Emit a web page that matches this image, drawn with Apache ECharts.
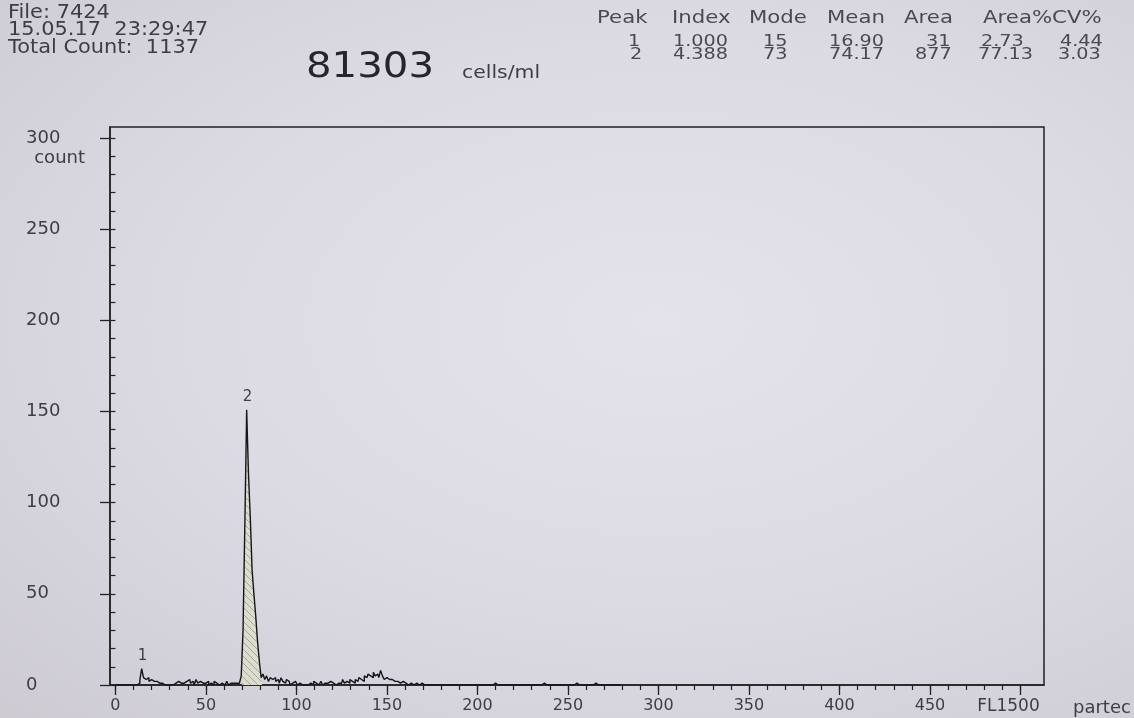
<!DOCTYPE html>
<html><head><meta charset="utf-8">
<script src="https://cdn.jsdelivr.net/npm/echarts@6/dist/echarts.min.js"></script>
<style>
html,body{margin:0;padding:0;width:1134px;height:718px;overflow:hidden;
background: radial-gradient(ellipse at 58% 45%, #e4e3ec 0%, #dcdbe4 50%, #cdcad2 100%);}
#c{width:1134px;height:718px;}
</style></head><body><div id="c"></div>
<script>
// Histogram counts per channel (FL1), channels 0..279 (beyond: 0)
const counts = [
  0,0,0,0,0,0,0,0,0,0,
  0,0,0,1,3,9,4,3,4,2,
  3,2,1,2,1,0,1,0,1,0,
  0,1,0,1,0,2,1,0,1,2,
  1,3,1,2,0,3,1,2,1,0,
  1,2,0,1,0,2,1,0,1,1,
  0,1,2,0,1,1,2,1,1,2,
  5,30,88,151,116,92,63,50,38,24,
  13,4,6,3,5,2,4,3,4,2,
  3,1,4,2,1,3,2,0,1,2,
  1,0,1,0,1,0,0,1,1,0,
  2,1,0,1,2,0,1,1,0,2,
  1,2,0,1,2,1,3,1,2,1,
  3,2,1,3,2,4,3,2,5,4,
  6,5,4,7,5,6,4,8,5,3,
  4,3,2,3,2,1,2,1,0,2,
  1,0,0,1,0,0,1,0,0,1,
  0,0,0,0,0,0,0,0,0,0,
  0,0,0,0,0,0,0,0,0,0,
  0,0,0,0,0,0,0,0,0,0,
  1,0,0,0,0,0,0,0,0,0,
  1,0,0,0,0,0,0,0,0,0,
  0,0,0,0,0,0,0,1,0,0,
  0,0,0,0,0,0,0,1,0,0,
  0,0,0,0,0,0,0,0,0,0,
  0,0,0,0,0,1,0,0,0,0,
  0,0,0,0,0,1,0,0,0,1,
  0,0,0,0,0,0,0,0,0,0
];
const peakNames = ['1', '2'];
const peakModes = [15, 73];
const gate2 = [70, 81];

const xTicks = [0,50,100,150,200,250,300,350,400,450,500];
const xMinor = [0,10,20,30,40,50,60,70,80,90,100,110,120,130,140,150,160,170,180,190,200,
  210,220,230,240,250,260,270,280,290,300,310,320,330,340,350,360,370,380,390,400,
  410,420,430,440,450,460,470,480,490,500];
const yTicks = [0,50,100,150,200,250,300];
const yMinor = [0,10,20,30,40,50,60,70,80,90,100,110,120,130,140,150,160,170,180,190,200,
  210,220,230,240,250,260,270,280,290,300];

const headerLeft = ['File: 7424', '15.05.17  23:29:47', 'Total Count:  1137'];
const concentration = '81303';
const concUnit = 'cells/ml';
const tableHeader = ['Peak', 'Index', 'Mode', 'Mean', 'Area', 'Area%CV%'];
const tableRows = [
  ['1', '1.000', '15', '16.90', '31', '2.73', '4.44'],
  ['2', '4.388', '73', '74.17', '877', '77.13', '3.03']
];

// layout (style only)
const FONT = '"DejaVu Sans", "Liberation Sans", sans-serif';
const TXT = '#3e3d46';
const headerX = [597, 672, 749, 827, 904, 983];
const cellX = [[628, 673, 763, 829, 926, 981, 1060], [630, 673, 763, 829, 915, 978, 1058]];

// hatch pattern for gated peak
const pat = document.createElement('canvas');
pat.width = 7; pat.height = 7;
const pc = pat.getContext('2d');
pc.fillStyle = '#dcdccf'; pc.fillRect(0,0,7,7);
pc.strokeStyle = '#a7a798'; pc.lineWidth = 1;
pc.beginPath(); pc.moveTo(0,0); pc.lineTo(7,7); pc.stroke();

const graphics = [];
headerLeft.forEach((t, i) => graphics.push({type:'text', x:8, y:[13,30,48][i], scaleX:1.1,
  style:{text:t, font:'19px ' + FONT, fill:TXT, align:'left', verticalAlign:'middle'}}));
graphics.push({type:'text', x:306, y:68, scaleX:1.15, style:{text:concentration, font:'35px ' + FONT, fill:'#25252b', align:'left', verticalAlign:'middle'}});
graphics.push({type:'text', x:462, y:74, scaleX:1.2, style:{text:concUnit, font:'17px ' + FONT, fill:TXT, align:'left', verticalAlign:'middle'}});
tableHeader.forEach((t, i) => graphics.push({type:'text', x:headerX[i], y:19, scaleX:1.25,
  style:{text:t, font:'17px ' + FONT, fill:'#4a4952', align:'left', verticalAlign:'middle'}}));
tableRows.forEach((row, r) => row.forEach((t, i) => graphics.push({type:'text', x:cellX[r][i], y:[42,55][r], scaleX:1.2,
  style:{text:t, font:'16px ' + FONT, fill:'#4a4952', align:'left', verticalAlign:'middle'}})));

const chart = echarts.init(document.getElementById('c'), null, {renderer:'canvas'});
chart.setOption({
  backgroundColor: 'transparent',
  animation: false,
  graphic: graphics,
  grid: {left:110, right:90, top:127, bottom:33, show:true, borderColor:'#222', borderWidth:1.5, backgroundColor:'transparent'},
  xAxis: [{
    type:'value', min:-3, max:513, position:'bottom',
    name:'partec', nameLocation:'end', nameGap:29,
    nameTextStyle:{fontFamily:FONT, fontSize:18, color:TXT, align:'left', verticalAlign:'top', padding:[14,0,0,0]},
    axisLine:{show:true, onZero:false, lineStyle:{color:'#222', width:1.5}},
    axisTick:{show:true, customValues:xTicks, length:10, inside:false, lineStyle:{color:'#222', width:1.3}},
    axisLabel:{show:true, customValues:xTicks, margin:13, fontFamily:FONT, fontSize:16, color:TXT,
      formatter: v => v === 500 ? '{f|FL1500}' : String(v),
      rich:{f:{fontFamily:FONT, fontSize:17, color:TXT, padding:[0,24,0,0]}}},
    splitLine:{show:false}
  }, {
    type:'value', min:-3, max:513, position:'bottom', gridIndex:0,
    axisLine:{show:false},
    axisTick:{show:true, customValues:xMinor, length:5, lineStyle:{color:'#222', width:1.2}},
    axisLabel:{show:false, customValues:xMinor},
    splitLine:{show:false}
  }],
  yAxis: [{
    type:'value', min:0, max:306, position:'left',
    name:'count', nameLocation:'end', nameGap:-31,
    nameTextStyle:{fontFamily:FONT, fontSize:18, color:TXT, align:'right', verticalAlign:'middle', padding:[0,25,0,0]},
    axisLine:{show:true, onZero:false, lineStyle:{color:'#222', width:1.5}},
    axisTick:{show:true, customValues:yTicks, length:10, lineStyle:{color:'#222', width:1.3}},
    axisLabel:{show:true, customValues:yTicks, margin:84, align:'left', fontFamily:FONT, fontSize:18, color:TXT},
    splitLine:{show:false}
  }, {
    type:'value', min:0, max:306, position:'left', gridIndex:0,
    axisLine:{show:false},
    axisTick:{show:true, customValues:yMinor, length:5, lineStyle:{color:'#222', width:1.2}},
    axisLabel:{show:false, customValues:yMinor},
    splitLine:{show:false}
  }],
  series: [{
    type:'line', name:'gate2', xAxisIndex:0, yAxisIndex:0, step:'middle', showSymbol:false, z:1,
    data: counts.slice(gate2[0], gate2[1] + 1).map((v, k) => [gate2[0] + k, v]),
    lineStyle:{width:0}, areaStyle:{color:{image:pat, repeat:'repeat'}, opacity:1}
  }, {
    type:'line', name:'FL1', xAxisIndex:0, yAxisIndex:0, step:'middle', showSymbol:false, z:3,
    data: counts.map((v, i) => [i, v]),
    lineStyle:{color:'#15151a', width:1.4},
    markPoint:{
      symbol:'circle', symbolSize:0,
      label:{show:true, position:'top', distance:5, formatter:'{b}', fontFamily:FONT, fontSize:15, color:TXT},
      data: peakModes.map((m, k) => ({name:peakNames[k], coord:[m, counts[m]]}))
    }
  }]
});
</script></body></html>
